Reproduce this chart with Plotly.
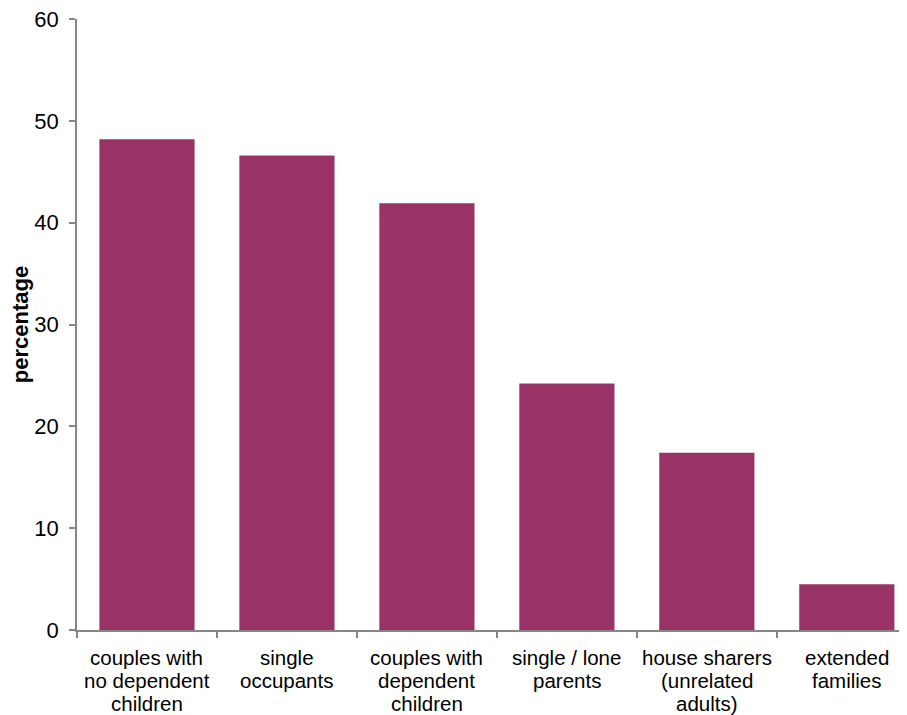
import plotly.graph_objects as go

categories = [
    "couples with no dependent children",
    "single occupants",
    "couples with dependent children",
    "single / lone parents",
    "house sharers (unrelated adults)",
    "extended families",
]
label_lines = [
    ["couples with", "no dependent", "children"],
    ["single", "occupants"],
    ["couples with", "dependent", "children"],
    ["single / lone", "parents"],
    ["house sharers", "(unrelated", "adults)"],
    ["extended", "families"],
]
values = [48.2, 46.6, 41.9, 24.2, 17.4, 4.5]
y_ticks = [0, 10, 20, 30, 40, 50, 60]

FONT = "Liberation Sans, Arial, sans-serif"
AXIS = "#868686"

fig = go.Figure(
    go.Bar(
        x=categories,
        y=values,
        marker=dict(color="#993366", line=dict(width=0)),
        width=0.68,
    )
)

fig.update_layout(
    width=899,
    height=707,
    margin=dict(l=69, r=0, t=11, b=85),
    paper_bgcolor="white",
    plot_bgcolor="white",
    showlegend=False,
    font=dict(family=FONT, color="black"),
)

fig.update_xaxes(
    type="category",
    range=[-0.5, 5.43],
    showline=True,
    linecolor=AXIS,
    linewidth=1.5,
    ticks="outside",
    tickson="boundaries",
    ticklen=6,
    tickcolor=AXIS,
    tickwidth=1.5,
    showticklabels=False,
    showgrid=False,
    zeroline=False,
    automargin=False,
)

fig.update_yaxes(
    range=[0, 60],
    tickvals=y_ticks,
    showline=True,
    linecolor=AXIS,
    linewidth=1.5,
    ticks="outside",
    ticklen=6,
    tickcolor=AXIS,
    tickwidth=1.5,
    ticklabelstandoff=6,
    ticklabeloverflow="allow",
    tickfont=dict(size=22, family=FONT, color="black"),
    showgrid=False,
    zeroline=False,
    automargin=False,
    title=dict(text="<b>percentage</b>", font=dict(size=22, family=FONT, color="black"), standoff=2),
)

for cat, lines in zip(categories, label_lines):
    for i, line in enumerate(lines):
        fig.add_annotation(
            x=cat,
            xref="x",
            y=0,
            yref="paper",
            text=line,
            showarrow=False,
            xanchor="center",
            yanchor="middle",
            yshift=-(27 + 23 * i),
            font=dict(size=20.5, family=FONT, color="black"),
        )

fig.write_html("out.html")
